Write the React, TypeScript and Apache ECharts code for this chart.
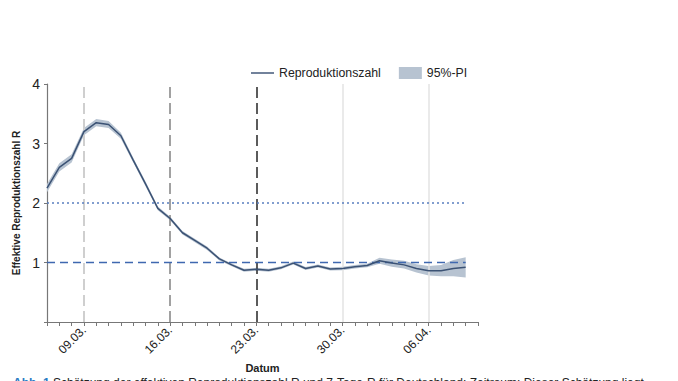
import React, { useEffect, useRef } from "react";
import * as echarts from "echarts";

const categories = [
  "06.03.", "07.03.", "08.03.", "09.03.", "10.03.", "11.03.", "12.03.", "13.03.", "14.03.", "15.03.",
  "16.03.", "17.03.", "18.03.", "19.03.", "20.03.", "21.03.", "22.03.", "23.03.", "24.03.", "25.03.",
  "26.03.", "27.03.", "28.03.", "29.03.", "30.03.", "31.03.", "01.04.", "02.04.", "03.04.", "04.04.",
  "05.04.", "06.04.", "07.04.", "08.04.", "09.04.", "10.04.",
];

const rValues = [
  2.25, 2.6, 2.75, 3.2, 3.35, 3.32, 3.13, 2.72, 2.32, 1.91,
  1.74, 1.5, 1.37, 1.24, 1.06, 0.96, 0.87, 0.885, 0.87, 0.91,
  0.99, 0.9, 0.94, 0.89, 0.9, 0.93, 0.95, 1.03, 0.99, 0.96,
  0.9, 0.86, 0.86, 0.9, 0.92,
];

const piLower = [
  2.18, 2.53, 2.68, 3.14, 3.29, 3.26, 3.08, 2.68, 2.28, 1.88,
  1.71, 1.47, 1.34, 1.21, 1.035, 0.935, 0.845, 0.86, 0.845, 0.885,
  0.965, 0.875, 0.915, 0.865, 0.87, 0.9, 0.92, 0.98, 0.93, 0.9,
  0.83, 0.78, 0.77, 0.77, 0.75,
];

const piUpper = [
  2.32, 2.67, 2.82, 3.26, 3.41, 3.38, 3.18, 2.76, 2.36, 1.94,
  1.77, 1.53, 1.4, 1.27, 1.085, 0.985, 0.895, 0.91, 0.895, 0.935,
  1.015, 0.925, 0.965, 0.915, 0.93, 0.96, 0.98, 1.08, 1.05, 1.03,
  0.97, 0.94, 0.96, 1.04, 1.09,
];

const weekLabels = ["09.03.", "16.03.", "23.03.", "30.03.", "06.04."];
const yTicks = [1, 2, 3, 4];

const FONT = "'Liberation Sans', Arial, sans-serif";

export default function App() {
  const ref = useRef<HTMLDivElement>(null);

  useEffect(() => {
    if (!ref.current) return;
    const chart = echarts.init(ref.current, null, { renderer: "svg" });
    const bandDiff = piUpper.map((u, i) => +(u - piLower[i]).toFixed(3));
    const lastCat = categories[rValues.length - 1];

    chart.setOption({
      animation: false,
      textStyle: { fontFamily: FONT },
      legend: {
        top: 62,
        left: 246,
        itemGap: 18,
        itemWidth: 23,
        itemHeight: 12,
        textStyle: { fontSize: 12.3, color: "#222", fontFamily: FONT },
        data: [
          { name: "Reproduktionszahl", icon: "path://M0,5 L24,5 L24,6.5 L0,6.5 Z", itemStyle: { color: "#3b5274" } },
          { name: "95%-PI", icon: "rect", itemStyle: { color: "#b7c3d1" } },
        ],
      },
      graphic: [
        {
          type: "text",
          left: 13,
          top: 377,
          style: {
            text: "{a|Abb. 1} Schätzung der effektiven Reproduktionszahl R und 7-Tage-R für Deutschland; Zeitraum: Dieser Schätzung liegt",
            rich: {
              a: { fill: "#2a7bc4", fontSize: 12, fontFamily: FONT, fontWeight: "bold" },
            },
            fill: "#222",
            fontSize: 12,
            fontFamily: FONT,
          },
        },
      ],
      grid: { left: 47, top: 84, right: 200, bottom: 59, containLabel: false },
      xAxis: {
        type: "category",
        data: categories,
        boundaryGap: false,
        name: "Datum",
        nameLocation: "middle",
        nameGap: 37,
        nameTextStyle: { fontWeight: "bold", fontSize: 11, color: "#222", fontFamily: FONT },
        axisLine: { lineStyle: { color: "#777", width: 1.2 } },
        axisTick: { show: true, interval: 0, length: 4, lineStyle: { color: "#777" } },
        axisLabel: {
          interval: (_i: number, v: string) => weekLabels.includes(v),
          rotate: 45,
          fontSize: 12,
          color: "#222",
          margin: 6,
          fontFamily: FONT,
        },
        splitLine: { show: false },
      },
      yAxis: {
        type: "value",
        min: 0,
        max: 4,
        interval: 1,
        name: "Effektive Reproduktionszahl R",
        nameLocation: "middle",
        nameGap: 23,
        nameTextStyle: { fontWeight: "bold", fontSize: 10, color: "#222", fontFamily: FONT },
        axisLine: { show: true, lineStyle: { color: "#777", width: 1.2 } },
        axisTick: { show: true, length: 3, lineStyle: { color: "#777" } },
        axisLabel: {
          fontSize: 14,
          color: "#222",
          margin: 7,
          fontFamily: FONT,
          formatter: (v: number) => (yTicks.includes(v) ? String(v) : ""),
        },
        splitLine: { show: false },
      },
      series: [
        {
          name: "lower",
          type: "line",
          data: piLower,
          stack: "pi",
          symbol: "none",
          lineStyle: { opacity: 0 },
          silent: true,
          z: 1,
        },
        {
          name: "95%-PI",
          type: "line",
          data: bandDiff,
          stack: "pi",
          symbol: "none",
          lineStyle: { opacity: 0 },
          areaStyle: { color: "#b7c3d1", opacity: 1 },
          itemStyle: { color: "#b7c3d1" },
          silent: true,
          z: 1,
          markLine: {
            symbol: "none",
            silent: true,
            label: { show: false },
            data: [
              { xAxis: "09.03.", lineStyle: { color: "#cfcfcf", type: [11, 5], width: 2 } },
              { xAxis: "16.03.", lineStyle: { color: "#8a8a8a", type: [11, 5], width: 1.6 } },
              { xAxis: "23.03.", lineStyle: { color: "#333", type: [11, 5], width: 1.6 } },
              { xAxis: "30.03.", lineStyle: { color: "#e3e3e3", type: "solid", width: 1.5 } },
              { xAxis: "06.04.", lineStyle: { color: "#e3e3e3", type: "solid", width: 1.5 } },
            ],
          },
        },
        {
          name: "Reproduktionszahl",
          type: "line",
          data: rValues,
          symbol: "none",
          lineStyle: { color: "#3b5274", width: 1.5 },
          itemStyle: { color: "#3b5274" },
          z: 5,
          markLine: {
            symbol: "none",
            silent: true,
            label: { show: false },
            data: [
              [
                { coord: [categories[0], 2], lineStyle: { color: "#5a7fc0", type: [2, 3], width: 1.5 } },
                { coord: [lastCat, 2] },
              ],
              [
                { coord: [categories[0], 1], lineStyle: { color: "#3f68b0", type: [8, 5], width: 1.4 } },
                { coord: [lastCat, 1] },
              ],
            ],
          },
        },
      ],
    });
    return () => chart.dispose();
  }, []);

  return (
    <div
      ref={ref}
      style={{ position: "absolute", left: 0, top: 0, width: 678, height: 381 }}
    />
  );
}
